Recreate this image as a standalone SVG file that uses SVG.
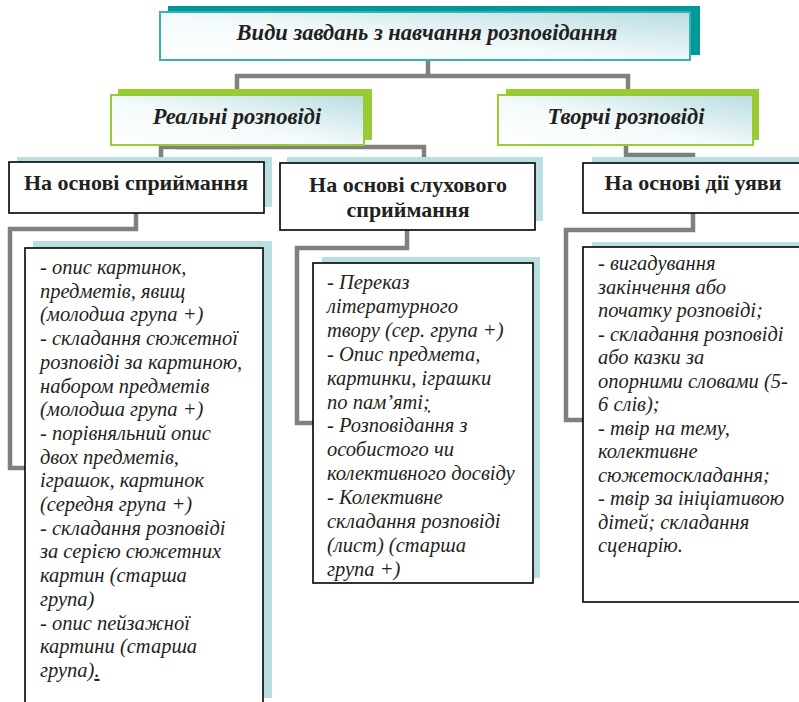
<svg xmlns="http://www.w3.org/2000/svg" width="799" height="702" viewBox="0 0 799 702">
<defs>
<linearGradient id="g" x1="0" y1="1" x2="1" y2="0">
<stop offset="0" stop-color="#ffffff"/>
<stop offset="0.45" stop-color="#f4fafb"/>
<stop offset="1" stop-color="#b9dde1"/>
</linearGradient>
<style>
.conn{fill:none;stroke:#808080;stroke-width:4.5;stroke-linejoin:miter}
.lb{fill:#badfe2}
.wb{fill:#ffffff;stroke:#000000;stroke-width:1.6}
.t1{font-family:"Liberation Serif",serif;font-weight:bold;font-style:italic;fill:#231f20;font-size:22.5px}
.t2{font-family:"Liberation Serif",serif;font-weight:bold;fill:#231f20;font-size:22px}
.t3{font-family:"Liberation Serif",serif;font-style:italic;fill:#231f20;font-size:20.5px}
</style>
</defs>
<rect width="799" height="702" fill="#ffffff"/>

<g id="connectors">
<polyline class="conn" points="428,60 428,76"/>
<polyline class="conn" points="237,94 237,76 628,76 628,94"/>
<polyline class="conn" points="237,145 237,147 161,147 161,163"/>
<polyline class="conn" points="176,147 424,147 424,163"/>
<polyline class="conn" points="626,145 626,155 693,155 693,163"/>
<polyline class="conn" points="136,213 136,229 10,229 10,468 25,468"/>
<polyline class="conn" points="407,230 407,248 297,248 297,423 313,423"/>
<polyline class="conn" points="693,213 693,230 566,230 566,420 583,420"/>
</g>

<g id="root">
<rect x="168" y="6" width="532" height="49" fill="#009999"/>
<rect x="160" y="12" width="530" height="48" fill="url(#g)" stroke="#3ab0b0" stroke-width="2"/>
<text class="t1" x="427" y="35" text-anchor="middle" dominant-baseline="middle">Види завдань з навчання розповідання</text>
</g>

<g id="real">
<rect x="118" y="89" width="254" height="51" fill="#99cc33"/>
<rect x="111" y="95" width="253" height="50" fill="url(#g)" stroke="#99cc33" stroke-width="2"/>
<text class="t1" x="237" y="119" text-anchor="middle" dominant-baseline="middle">Реальні розповіді</text>
</g>

<g id="creative">
<rect x="506" y="89" width="253" height="51" fill="#99cc33"/>
<rect x="498" y="95" width="255" height="50" fill="url(#g)" stroke="#99cc33" stroke-width="2"/>
<text class="t1" x="626" y="119" text-anchor="middle" dominant-baseline="middle">Творчі розповіді</text>
</g>

<g id="perception">
<rect class="lb" x="17" y="157" width="255" height="50"/>
<rect class="wb" x="9" y="162" width="255" height="51"/>
<text class="t2" x="136" y="185" font-size="20.5" text-anchor="middle" dominant-baseline="middle">На основі сприймання</text>
</g>

<g id="auditory">
<rect class="lb" x="287" y="157" width="256" height="64"/>
<rect class="wb" x="280" y="163" width="255" height="67"/>
<text class="t2" x="408" y="187" text-anchor="middle" dominant-baseline="middle">На основі слухового</text>
<text class="t2" x="408" y="212" text-anchor="middle" dominant-baseline="middle">сприймання</text>
</g>

<g id="imagination">
<rect class="lb" x="592" y="157" width="210" height="50"/>
<rect class="wb" x="583" y="163" width="220" height="50"/>
<text class="t2" x="693" y="185" text-anchor="middle" dominant-baseline="middle">На основі дії уяви</text>
</g>

<g id="list-perception">
<rect class="lb" x="33" y="241" width="239" height="457"/>
<rect class="wb" x="25" y="248" width="238" height="460"/>
<text class="t3" x="40" y="274">
<tspan x="40" dy="0">- опис картинок,</tspan>
<tspan x="40" dy="23.7">предметів, явищ</tspan>
<tspan x="40" dy="23.7">(молодша група +)</tspan>
<tspan x="40" dy="23.7">- складання сюжетної</tspan>
<tspan x="40" dy="23.7">розповіді за картиною,</tspan>
<tspan x="40" dy="23.7">набором предметів</tspan>
<tspan x="40" dy="23.7">(молодша група +)</tspan>
<tspan x="40" dy="23.7">- порівняльний опис</tspan>
<tspan x="40" dy="23.7">двох предметів,</tspan>
<tspan x="40" dy="23.7">іграшок, картинок</tspan>
<tspan x="40" dy="23.7">(середня група +)</tspan>
<tspan x="40" dy="23.7">- складання розповіді</tspan>
<tspan x="40" dy="23.7">за серією сюжетних</tspan>
<tspan x="40" dy="23.7">картин (старша</tspan>
<tspan x="40" dy="23.7">група)</tspan>
<tspan x="40" dy="23.7">- опис пейзажної</tspan>
<tspan x="40" dy="23.7">картини (старша</tspan>
<tspan x="40" dy="23.7">група)<tspan text-decoration="underline">.</tspan></tspan>
</text>
</g>

<g id="list-auditory">
<rect class="lb" x="322" y="257" width="218" height="321"/>
<rect class="wb" x="313" y="263" width="220" height="320"/>
<text class="t3" x="327" y="289">
<tspan x="327" dy="0">- Переказ</tspan>
<tspan x="327" dy="23.9">літературного</tspan>
<tspan x="327" dy="23.9">твору (сер. група +)</tspan>
<tspan x="327" dy="23.9">- Опис предмета,</tspan>
<tspan x="327" dy="23.9">картинки, іграшки</tspan>
<tspan x="327" dy="23.9">по пам’яті<tspan text-decoration="underline">;</tspan></tspan>
<tspan x="327" dy="23.9">- Розповідання з</tspan>
<tspan x="327" dy="23.9">особистого чи</tspan>
<tspan x="327" dy="23.9">колективного досвіду</tspan>
<tspan x="327" dy="23.9">- Колективне</tspan>
<tspan x="327" dy="23.9">складання розповіді</tspan>
<tspan x="327" dy="23.9">(лист) (старша</tspan>
<tspan x="327" dy="23.9">група +)</tspan>
</text>
</g>

<g id="list-imagination">
<rect class="lb" x="592" y="242" width="210" height="355"/>
<rect class="wb" x="583" y="247" width="220" height="355"/>
<text class="t3" x="598" y="270">
<tspan x="598" dy="0">- вигадування</tspan>
<tspan x="598" dy="23.5">закінчення або</tspan>
<tspan x="598" dy="23.5">початку розповіді;</tspan>
<tspan x="598" dy="23.5">- складання розповіді</tspan>
<tspan x="598" dy="23.5">або казки за</tspan>
<tspan x="598" dy="23.5">опорними словами (5-</tspan>
<tspan x="598" dy="23.5">6 слів);</tspan>
<tspan x="598" dy="23.5">- твір на тему,</tspan>
<tspan x="598" dy="23.5">колективне</tspan>
<tspan x="598" dy="23.5">сюжетоскладання;</tspan>
<tspan x="598" dy="23.5">- твір за ініціативою</tspan>
<tspan x="598" dy="23.5">дітей; складання</tspan>
<tspan x="598" dy="23.5">сценарію.</tspan>
</text>
</g>
</svg>
